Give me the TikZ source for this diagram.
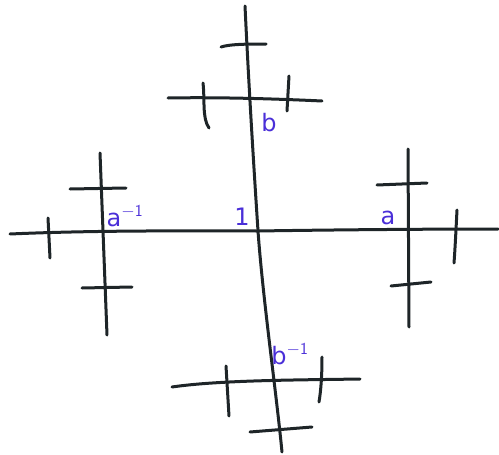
\documentclass[tikz,border=0pt]{standalone}
\usepackage{fontspec}
\setmainfont{DejaVu Sans}
\definecolor{ink}{HTML}{1E2528}
\definecolor{pen}{HTML}{4A2FD8}
\tikzset{
  stroke/.style={draw=ink, line width=3pt, line cap=round, line join=round},
  lbl/.style={text=pen, font=\fontsize{24}{24}\selectfont, inner sep=0pt}
}
\begin{document}
\begin{tikzpicture}[x=1pt,y=-1pt]
\useasboundingbox (0,0) rectangle (499,455);
% main axes
\coordinate (L) at (10,234);
\coordinate (R) at (498,229);
\coordinate (T) at (245,6);
\coordinate (B) at (282,452);
\coordinate (one) at (258,231);
\draw[stroke] (L) .. controls (100,230) and (200,231) .. (one) .. controls (320,230) and (420,229) .. (R);
\draw[stroke] (T) .. controls (249,90) and (254,170) .. (one) .. controls (263,300) and (276,390) .. (B);
% top cluster
\coordinate (b1) at (168,98);
\coordinate (b2) at (322,101);
\draw[stroke] (b1) .. controls (220,97) and (280,99) .. (b2);
\coordinate (t1) at (221,47);
\coordinate (t2) at (266,44);
\draw[stroke] (t1) .. controls (230,44) and (250,44) .. (t2);
\coordinate (bl1) at (203,83);
\coordinate (bl2) at (209,128);
\draw[stroke] (bl1) .. controls (205,100) and (202,118) .. (bl2);
\coordinate (br1) at (289,76);
\coordinate (br2) at (287,111);
\draw[stroke] (br1) -- (br2);
% bottom cluster
\coordinate (c1) at (172,387);
\coordinate (c2) at (360,379);
\draw[stroke] (c1) .. controls (220,380) and (300,380) .. (c2);
\coordinate (cl1) at (226,366);
\coordinate (cl2) at (229,416);
\draw[stroke] (cl1) -- (cl2);
\coordinate (cr1) at (322,357);
\coordinate (cr2) at (319,402);
\draw[stroke] (cr1) .. controls (322,375) and (321,390) .. (cr2);
\coordinate (d1) at (250,432);
\coordinate (d2) at (312,427);
\draw[stroke] (d1) -- (d2);
% left cluster
\coordinate (l1) at (100,153);
\coordinate (l2) at (107,335);
\draw[stroke] (l1) -- (l2);
\coordinate (lt1) at (70,189);
\coordinate (lt2) at (126,188);
\draw[stroke] (lt1) -- (lt2);
\coordinate (lb1) at (82,288);
\coordinate (lb2) at (132,287);
\draw[stroke] (lb1) -- (lb2);
\coordinate (ls1) at (48,218);
\coordinate (ls2) at (50,258);
\draw[stroke] (ls1) -- (ls2);
% right cluster
\coordinate (r1) at (408,149);
\coordinate (r2) at (409,327);
\draw[stroke] (r1) -- (r2);
\coordinate (rt1) at (377,185);
\coordinate (rt2) at (427,183);
\draw[stroke] (rt1) -- (rt2);
\coordinate (rb1) at (391,286);
\coordinate (rb2) at (431,282);
\draw[stroke] (rb1) -- (rb2);
\coordinate (rs1) at (457,210);
\coordinate (rs2) at (454,263);
\draw[stroke] (rs1) .. controls (456,230) and (455,250) .. (rs2);
% labels
\node[lbl, anchor=base] (la) at (388,224) {a};
\node[lbl, anchor=base] (lainv) at (125,226) {a$^{\mathsf{-1}}$};
\node[lbl, anchor=base] (lone) at (242,225) {1};
\node[lbl, anchor=base] (lb) at (269,131) {b};
\node[lbl, anchor=base] (lbinv) at (290,364) {b$^{\mathsf{-1}}$};
\end{tikzpicture}
\end{document}
